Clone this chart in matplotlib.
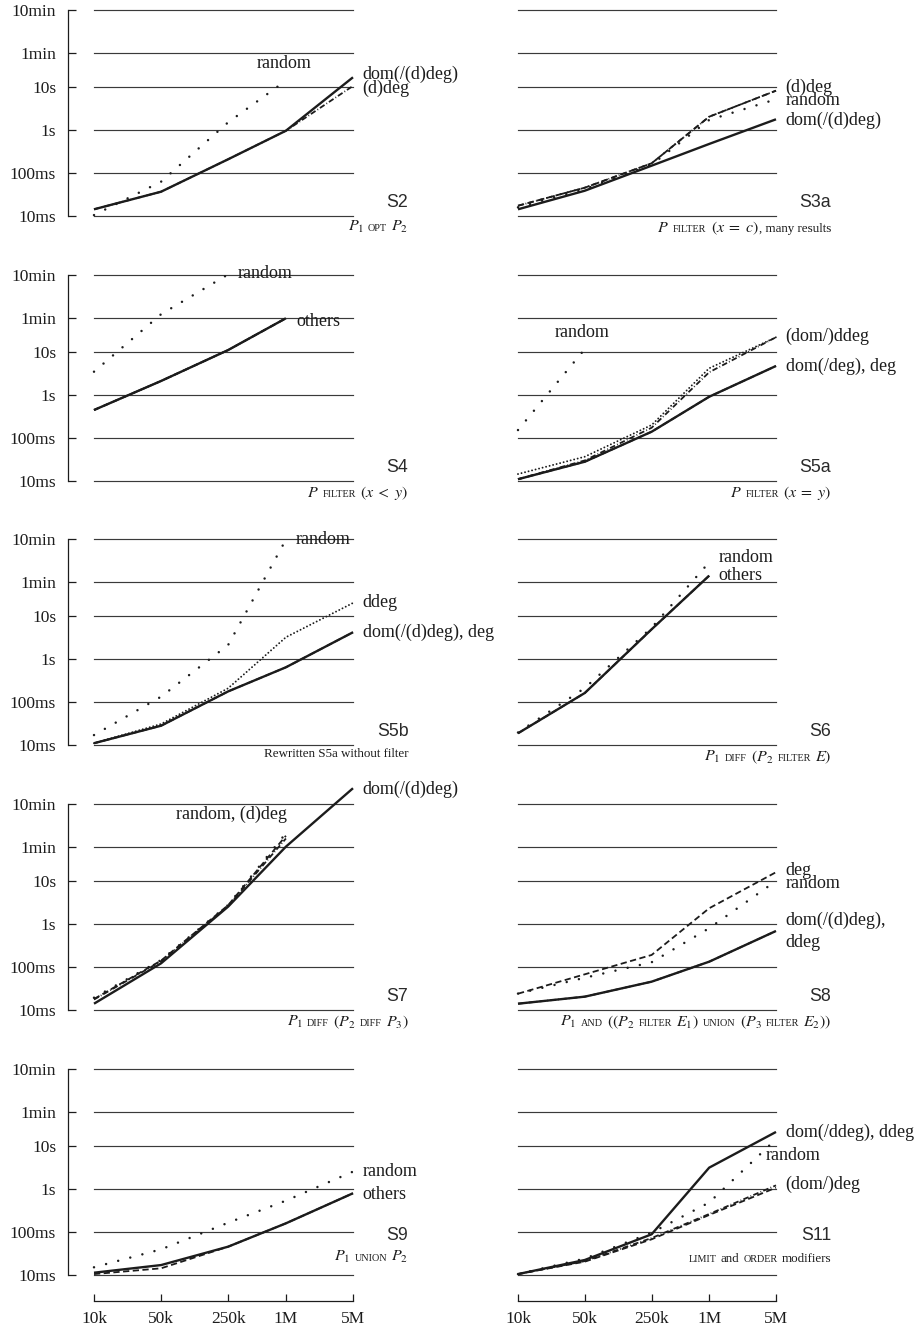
import matplotlib
matplotlib.use("Agg")
import matplotlib.pyplot as plt
from matplotlib.ticker import FixedLocator, NullLocator
from matplotlib.offsetbox import TextArea, HPacker, DrawingArea, AnnotationBbox

# ---------------- data ----------------
sizes = [1e4, 5e4, 2.5e5, 1e6, 5e6]
size_labels = ["10k", "50k", "250k", "1M", "5M"]
time_ticks = [0.01, 0.1, 1, 10, 60, 600]
time_labels = ["10ms", "100ms", "1s", "10s", "1min", "10min"]

s2_dom = [0.0143, 0.0366, 0.207, 0.95, 16.5]
s2_dd = [0.0143, 0.0366, 0.207, 0.95, 10.4]
s2_random = [0.0105, 0.0625, 1.49, 13.8]

s3a_dom = [0.0143, 0.0386, 0.147, 0.469, 1.75]
s3a_dd = [0.0173, 0.0454, 0.167, 2.01, 8.07]
s3a_random = [0.0159, 0.042, 0.155, 1.69, 5.1]

s4_others = [0.443, 2.09, 10.9, 59.6]
s4_random = [3.43, 73.8, 620]

s5a_dom = [0.011, 0.028, 0.139, 0.90, 4.66]
s5a_ddeg = [0.0145, 0.0366, 0.199, 4.12, 21.6]
s5a_domddeg = [0.011, 0.030, 0.172, 3.33, 21.6]
s5a_random = [0.152, 11.5]

s5b_dom = [0.011, 0.028, 0.175, 0.635, 4.12]
s5b_ddeg = [0.011, 0.0307, 0.207, 3.16, 19.7]
s5b_random = [0.017, 0.132, 2.09, 580]

s6_others = [0.0187, 0.161, 4.83, 84.7]
s6_random = [0.0195, 0.21, 5.27, 173]

s7_dom = [0.014, 0.121, 2.5, 61.5, 1393]
s7_random = [0.0193, 0.144, 2.73, 126]
s7_deg = [0.018, 0.14, 2.7, 110]
s7_ddeg = [0.0175, 0.135, 2.6, 95]

s8_dom = [0.014, 0.0204, 0.0454, 0.132, 0.681]
s8_deg = [0.0239, 0.0673, 0.189, 2.29, 15.7]
s8_random = [0.024, 0.056, 0.128, 0.79, 9.84]

s9_others = [0.0113, 0.017, 0.0454, 0.158, 0.787]
s9_deg = [0.0105, 0.0143, 0.0454, 0.158, 0.787]
s9_random = [0.0151, 0.0394, 0.163, 0.53, 2.5]

s11_dom = [0.0105, 0.0223, 0.088, 3.09, 20.8]
s11_deg = [0.0105, 0.0204, 0.0673, 0.247, 1.06]
s11_domdeg = [0.0105, 0.021, 0.072, 0.26, 1.2]
s11_random = [0.0105, 0.024, 0.096, 0.48, 14.1]

# ---------------- style ----------------
plt.rcParams["font.family"] = ["Liberation Serif", "DejaVu Serif"]
plt.rcParams["mathtext.fontset"] = "stix"
plt.rcParams["lines.scale_dashes"] = False

INK = "#1c1c1c"
STY = {
    "solid": dict(linestyle="-", linewidth=1.7),
    "dashed": dict(linestyle=(0, (4.5, 2.5)), linewidth=1.3),
    "dashdot": dict(linestyle=(0, (4.0, 1.6, 0.6, 1.6)), linewidth=1.3),
    "dots": dict(linestyle=(0, (0.01, 9.0)), linewidth=1.8, dash_capstyle="round"),
    "fine": dict(linestyle=(0, (0.01, 2.6)), linewidth=1.4, dash_capstyle="round"),
}

G = ("g", 3.0)
panels = [
    dict(label="S2", row=0, col=0,
         series=[(s2_random, "dots"), (s2_dd, "dashdot"), (s2_dom, "solid")],
         notes=[("random", 4.9e5, 33.7), ("dom(/(d)deg)", 6.3e6, 19.7), ("(d)deg", 6.3e6, 9.3)],
         sub=[("m", "$P_1$"), G, ("s", "OPT"), G, ("m", "$P_2$")]),
    dict(label="S3a", row=0, col=1,
         series=[(s3a_random, "dots"), (s3a_dd, "dashed"), (s3a_dd, "dashdot"), (s3a_dom, "solid")],
         notes=[("(d)deg", 6.3e6, 9.7), ("random", 6.3e6, 4.9), ("dom(/(d)deg)", 6.3e6, 1.69)],
         sub=[("m", "$P$"), G, ("s", "FILTER"), G, ("m", r"$(x\;=\;c)$"), ("r", ", many results")]),
    dict(label="S4", row=1, col=0,
         series=[(s4_random, "dots"), (s4_others, "dashed"), (s4_others, "dashdot"), (s4_others, "solid")],
         notes=[("random", 3.17e5, 635), ("others", 1.27e6, 49.6)],
         sub=[("m", "$P$"), G, ("s", "FILTER"), G, ("m", r"$(x\;<\;y)$")]),
    dict(label="S5a", row=1, col=1,
         series=[(s5a_random, "dots"), (s5a_ddeg, "fine"), (s5a_domddeg, "dashdot"),
                 (s5a_dom, "dashed"), (s5a_dom, "solid")],
         notes=[("random", 2.43e4, 27.6), ("(dom/)ddeg", 6.3e6, 22.3), ("dom(/deg), deg", 6.3e6, 4.66)],
         sub=[("m", "$P$"), G, ("s", "FILTER"), G, ("m", r"$(x\;=\;y)$")]),
    dict(label="S5b", row=2, col=0,
         series=[(s5b_random, "dots"), (s5b_ddeg, "fine"), (s5b_dom, "dashed"), (s5b_dom, "solid")],
         notes=[("random", 1.27e6, 600), ("ddeg", 6.3e6, 20.5), ("dom(/(d)deg), deg", 6.3e6, 4.12)],
         sub=[("r", "Rewritten S5a without filter")]),
    dict(label="S6", row=2, col=1,
         series=[(s6_random, "dots"), (s6_others, "dashed"), (s6_others, "solid")],
         notes=[("random", 1.25e6, 218), ("others", 1.25e6, 84.7)],
         sub=[("m", "$P_1$"), G, ("s", "DIFF"), G, ("m", "$(P_2$"), G, ("s", "FILTER"), G, ("m", "$E)$")]),
    dict(label="S7", row=3, col=0,
         series=[(s7_random, "dots"), (s7_deg, "dashed"), (s7_ddeg, "dashdot"), (s7_dom, "solid")],
         notes=[("random, (d)deg", 7.1e4, 348), ("dom(/(d)deg)", 6.3e6, 1343)],
         sub=[("m", "$P_1$"), G, ("s", "DIFF"), G, ("m", "$(P_2$"), G, ("s", "DIFF"), G, ("m", "$P_3)$")]),
    dict(label="S8", row=3, col=1,
         series=[(s8_random, "dots"), (s8_deg, "dashed"), (s8_dom, "dashdot"), (s8_dom, "solid")],
         notes=[("deg", 6.3e6, 17.1), ("random", 6.3e6, 8.7), ("dom(/(d)deg),", 6.3e6, 1.18), ("ddeg", 6.3e6, 0.372)],
         sub=[("m", "$P_1$"), G, ("s", "AND"), G, ("m", "$((P_2$"), G, ("s", "FILTER"), G, ("m", "$E_1)$"),
              G, ("s", "UNION"), G, ("m", "$(P_3$"), G, ("s", "FILTER"), G, ("m", "$E_2))$")]),
    dict(label="S9", row=4, col=0,
         series=[(s9_random, "dots"), (s9_deg, "dashed"), (s9_others, "solid")],
         notes=[("random", 6.3e6, 2.5), ("others", 6.3e6, 0.745)],
         sub=[("m", "$P_1$"), G, ("s", "UNION"), G, ("m", "$P_2$")]),
    dict(label="S11", row=4, col=1,
         series=[(s11_random, "dots"), (s11_deg, "dashed"), (s11_domdeg, "dashdot"), (s11_dom, "solid")],
         notes=[("dom(/ddeg), ddeg", 6.3e6, 20.8), ("random", 3.9e6, 5.77), ("(dom/)deg", 6.3e6, 1.27)],
         sub=[("s", "LIMIT"), G, ("r", "and"), G, ("s", "ORDER"), G, ("r", "modifiers")]),
]

# ---------------- layout ----------------
W, H = 922, 1331
fig = plt.figure(figsize=(W / 100, H / 100), dpi=100)
col_x = [94, 518]
col_w = [259, 258]
row_top = [10, 275, 539, 804, 1069]
ph = 206
PX = 0.72  # points per pixel


def make_sub(ax, segs, xy, align):
    kids = []
    for kind, val in segs:
        if kind == "g":
            kids.append(DrawingArea(val, 0))
        elif kind == "m":
            kids.append(TextArea(val, textprops=dict(fontsize=11.5, color=INK)))
        elif kind == "s":
            kids.append(TextArea(val, textprops=dict(fontsize=7.3, color=INK)))
        else:
            kids.append(TextArea(val, textprops=dict(fontsize=9.4, color=INK)))
    pack = HPacker(children=kids, align="baseline", pad=0, sep=0)
    ab = AnnotationBbox(pack, xy, xycoords="axes fraction", box_alignment=align,
                        frameon=False, pad=0, annotation_clip=False)
    ax.add_artist(ab)


for p in panels:
    r, c = p["row"], p["col"]
    ax = fig.add_axes([col_x[c] / W, 1 - (row_top[r] + ph) / H, col_w[c] / W, ph / H])
    ax.set_xscale("log")
    ax.set_yscale("log")
    ax.set_xlim(sizes[0], sizes[-1])
    ax.set_ylim(time_ticks[0], time_ticks[-1])
    ax.patch.set_visible(False)
    for s in ax.spines.values():
        s.set_visible(False)
    ax.yaxis.set_major_locator(FixedLocator(time_ticks))
    ax.yaxis.set_minor_locator(NullLocator())
    ax.xaxis.set_major_locator(FixedLocator(sizes))
    ax.xaxis.set_minor_locator(NullLocator())
    ax.grid(axis="y", color="#3a3a3a", linewidth=0.85)
    ax.grid(axis="x", visible=False)
    ax.set_axisbelow(True)

    if c == 0:
        sp = ax.spines["left"]
        sp.set_visible(True)
        sp.set_position(("outward", 26 * PX))
        sp.set_linewidth(0.9)
        sp.set_color(INK)
        ax.set_yticks(time_ticks, time_labels)
        ax.tick_params(axis="y", direction="in", length=6, width=0.9, pad=8.5,
                       labelsize=12.5, colors=INK)
    else:
        ax.tick_params(axis="y", left=False, labelleft=False)

    if r == 4:
        sp = ax.spines["bottom"]
        sp.set_visible(True)
        sp.set_position(("outward", 26 * PX))
        sp.set_linewidth(0.9)
        sp.set_color(INK)
        ax.set_xticks(sizes, size_labels)
        ax.tick_params(axis="x", direction="in", length=5, width=0.9, pad=7.5,
                       labelsize=12.5, colors=INK)
    else:
        ax.tick_params(axis="x", bottom=False, labelbottom=False)

    for vals, st in p["series"]:
        ax.plot(sizes[:len(vals)], vals, color=INK, clip_on=False,
                solid_capstyle="butt", **STY[st])

    for txt, x, y in p["notes"]:
        ax.text(x, y, txt, ha="left", va="center", fontsize=13, color=INK)

    if r == 4:
        ax.text(1.214, 0.17, p["label"], transform=ax.transAxes, ha="right", va="baseline",
                fontsize=12.8, family="Liberation Sans", color="#2a2a2a")
        make_sub(ax, p["sub"], (1.214, 0.05), (1, 0))
    else:
        ax.text(1.214, 0.046, p["label"], transform=ax.transAxes, ha="right", va="baseline",
                fontsize=12.8, family="Liberation Sans", color="#2a2a2a")
        make_sub(ax, p["sub"], (1.214, -0.016), (1, 1))

fig.canvas.draw()
for a in fig.axes:
    for gl in a.get_ygridlines():
        gl.set_clip_on(False)

fig.savefig("out.png", dpi=100)
